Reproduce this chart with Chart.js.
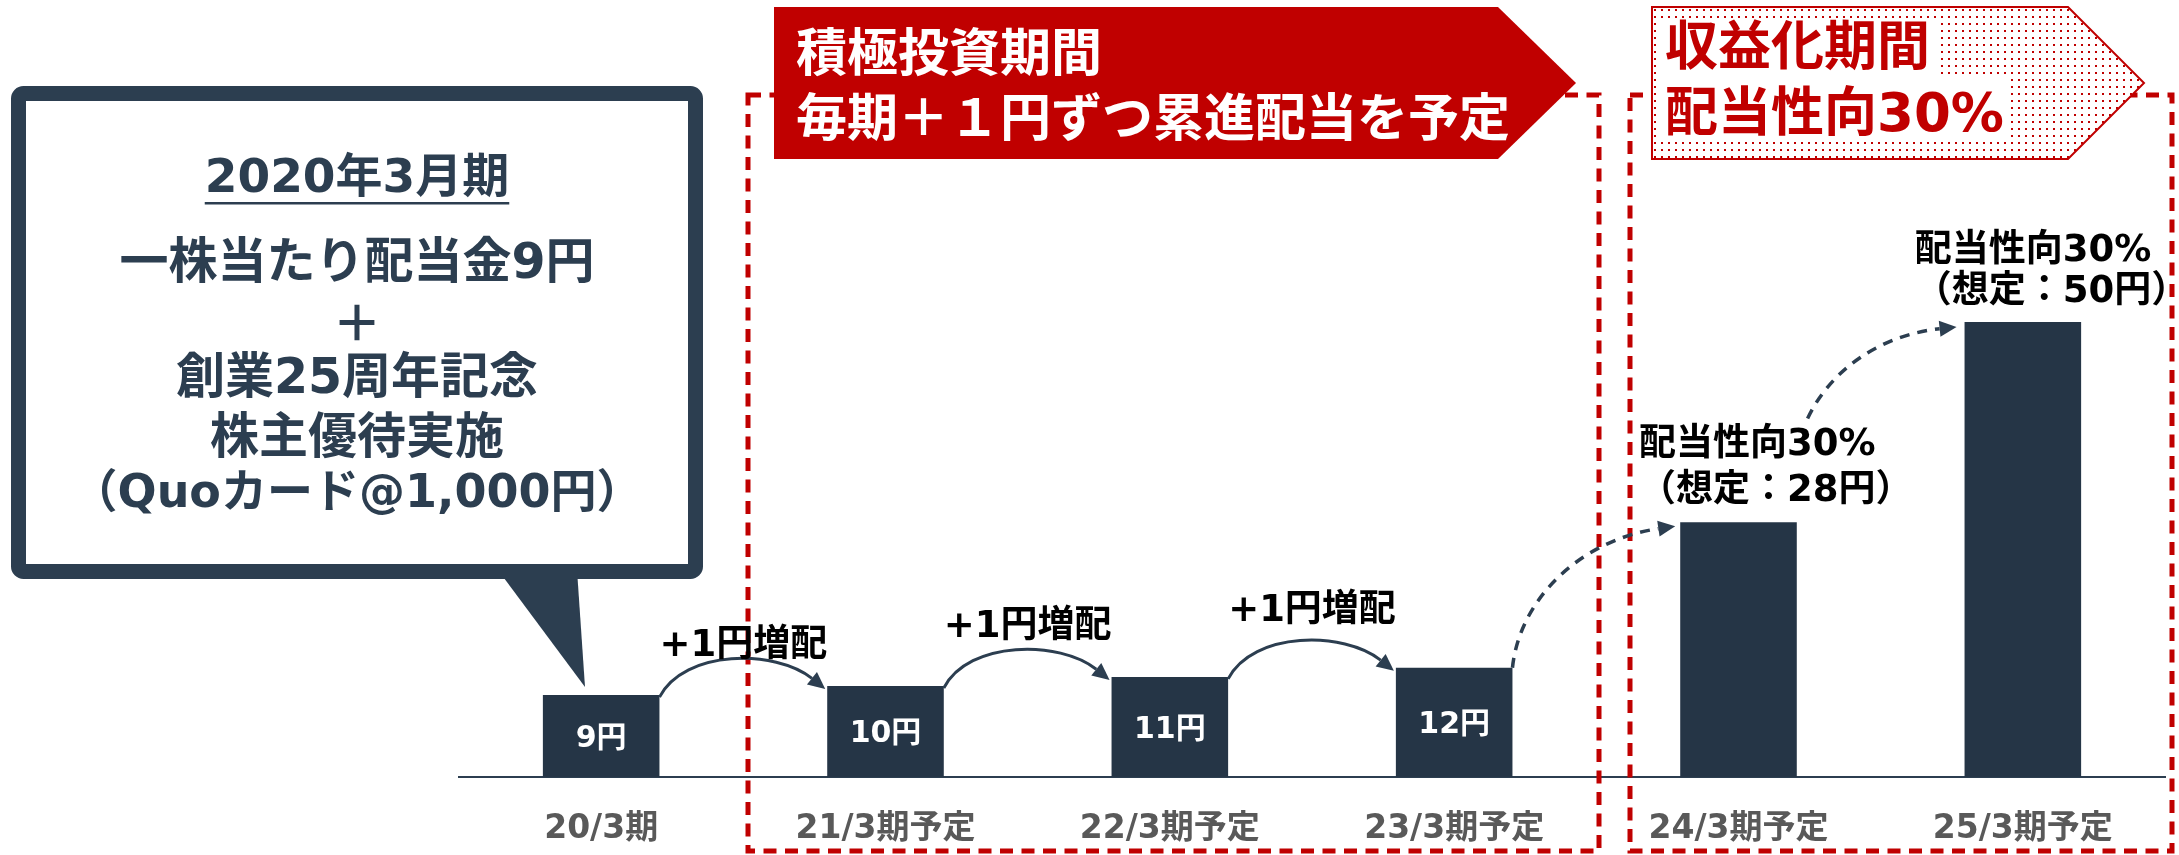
<!DOCTYPE html>
<html lang="ja">
<head>
<meta charset="utf-8">
<script src="https://cdn.jsdelivr.net/npm/chart.js@4.4.1/dist/chart.umd.min.js"></script>
<style>
  html, body { margin: 0; padding: 0; background: #fff; }
  #wrap { width: 2179px; height: 855px; }
</style>
</head>
<body>
<div id="wrap"><canvas id="chart" width="2179" height="855"></canvas></div>
<script>
// --- data ---
const categories = ["20/3期", "21/3期予定", "22/3期予定", "23/3期予定", "24/3期予定", "25/3期予定"];
const dividends = [9, 10, 11, 12, 28, 50];
const barLabels = ["9円", "10円", "11円", "12円", "", ""];
const stepLabels = ["+1円増配", "+1円増配", "+1円増配"];
const stepLabelLevels = [14.3, 16.4, 18.2];
const payoutTitles = ["配当性向30%", "配当性向30%"];
const payoutNotes = ["（想定：28円）", "（想定：50円）"];
const bubbleLines = ["2020年3月期", "一株当たり配当金9円", "＋", "創業25周年記念", "株主優待実施", "（Quoカード@1,000円）"];
const investBanner = ["積極投資期間", "毎期＋１円ずつ累進配当を予定"];
const profitBanner = ["収益化期間", "配当性向30%"];

const NAVY = "#253546";
const SLATE = "#2c3e50";
const RED = "#c00000";
const GREY = "#595959";
const MIXED = '"DejaVu Sans", "Noto Sans CJK JP", sans-serif';
const CJK = '"Noto Sans CJK JP", sans-serif';

function curveArrow(ctx, p0, c1, c2, p3, dash, lw) {
  ctx.save();
  ctx.strokeStyle = SLATE;
  ctx.fillStyle = SLATE;
  ctx.lineWidth = lw;
  const ang = Math.atan2(p3.y - c2.y, p3.x - c2.x);
  const L = 17, W = 8;
  const bx = p3.x - L * Math.cos(ang), by = p3.y - L * Math.sin(ang);
  ctx.setLineDash(dash);
  ctx.beginPath();
  ctx.moveTo(p0.x, p0.y);
  ctx.bezierCurveTo(c1.x, c1.y, c2.x, c2.y, bx, by);
  ctx.stroke();
  ctx.setLineDash([]);
  ctx.beginPath();
  ctx.moveTo(p3.x, p3.y);
  ctx.lineTo(bx + W * Math.sin(ang), by - W * Math.cos(ang));
  ctx.lineTo(bx - W * Math.sin(ang), by + W * Math.cos(ang));
  ctx.closePath();
  ctx.fill();
  ctx.restore();
}

function dotPattern(ctx) {
  const c = document.createElement("canvas");
  c.width = 7; c.height = 7;
  const g = c.getContext("2d");
  g.fillStyle = RED;
  g.fillRect(2, 2, 2, 2);
  return ctx.createPattern(c, "repeat");
}

const overlay = {
  id: "overlay",
  afterDraw(chart) {
    const ctx = chart.ctx;
    const xs = chart.scales.x, ys = chart.scales.y;
    const X = (i) => xs.getPixelForValue(i);
    const Y = (v) => ys.getPixelForValue(v);
    const bars = chart.getDatasetMeta(0).data;
    ctx.save();

    // values inside the small bars
    ctx.fillStyle = "#fff";
    ctx.font = `bold 30px ${MIXED}`;
    ctx.textAlign = "center";
    ctx.textBaseline = "middle";
    bars.forEach((b, i) => {
      if (barLabels[i]) ctx.fillText(barLabels[i], b.x, (b.y + b.base) / 2 + 3);
    });

    // dashed period frames
    ctx.strokeStyle = RED;
    ctx.lineWidth = 5;
    ctx.setLineDash([13, 8.5]);
    ctx.strokeRect(748, 95, 851, 756);
    ctx.strokeRect(1630, 95, 542, 756);
    ctx.setLineDash([]);

    // banner: investment period
    ctx.fillStyle = RED;
    ctx.beginPath();
    ctx.moveTo(774, 7); ctx.lineTo(1498, 7); ctx.lineTo(1576, 83);
    ctx.lineTo(1498, 159); ctx.lineTo(774, 159); ctx.closePath();
    ctx.fill();
    ctx.fillStyle = "#fff";
    ctx.font = `bold 51px ${CJK}`;
    ctx.textAlign = "left";
    ctx.fillText(investBanner[0], 796, 52);
    ctx.fillText(investBanner[1], 796, 117);

    // banner: monetisation period (dotted)
    ctx.beginPath();
    ctx.moveTo(1652, 7); ctx.lineTo(2068, 7); ctx.lineTo(2144, 83);
    ctx.lineTo(2068, 159); ctx.lineTo(1652, 159); ctx.closePath();
    ctx.fillStyle = "#fff";
    ctx.fill();
    ctx.fillStyle = dotPattern(ctx);
    ctx.fill();
    ctx.strokeStyle = RED;
    ctx.lineWidth = 2;
    ctx.stroke();
    ctx.font = `bold 53px ${MIXED}`;
    const w1 = ctx.measureText(profitBanner[0]).width;
    const w2 = ctx.measureText(profitBanner[1]).width;
    ctx.fillStyle = "#fff";
    ctx.fillRect(1660, 23, w1 + 14, 55);
    ctx.fillRect(1660, 78, w2 + 12, 61);
    ctx.fillStyle = RED;
    ctx.fillText(profitBanner[0], 1665, 51);
    ctx.fillText(profitBanner[1], 1665, 117);

    // speech bubble
    ctx.fillStyle = SLATE;
    ctx.beginPath();
    ctx.moveTo(498, 570); ctx.lineTo(577, 570); ctx.lineTo(585, 687); ctx.closePath();
    ctx.fill();
    ctx.strokeStyle = SLATE;
    ctx.lineWidth = 15;
    const bx = 18.5, by = 93.5, bw = 677, bh = 478, r = 5;
    ctx.beginPath();
    ctx.moveTo(bx + r, by); ctx.lineTo(bx + bw - r, by); ctx.arcTo(bx + bw, by, bx + bw, by + r, r);
    ctx.lineTo(bx + bw, by + bh - r); ctx.arcTo(bx + bw, by + bh, bx + bw - r, by + bh, r);
    ctx.lineTo(bx + r, by + bh); ctx.arcTo(bx, by + bh, bx, by + bh - r, r);
    ctx.lineTo(bx, by + r); ctx.arcTo(bx, by, bx + r, by, r);
    ctx.closePath();
    ctx.stroke();

    ctx.fillStyle = SLATE;
    ctx.textAlign = "center";
    const cx = 357;
    const lineY = [180, 265, 328, 380, 440, 495];
    const lineSize = [47, 49, 49, 49, 49, 46];
    bubbleLines.forEach((t, i) => {
      ctx.font = `bold ${lineSize[i]}px ${MIXED}`;
      ctx.fillText(t, cx, lineY[i]);
    });
    ctx.font = `bold ${lineSize[0]}px ${MIXED}`;
    const tw = ctx.measureText(bubbleLines[0]).width;
    ctx.fillRect(cx - tw / 2, lineY[0] + 22, tw, 2.5);

    // +1 yen step arrows
    for (let i = 0; i < 3; i++) {
      const a = bars[i], b = bars[i + 1];
      const p0 = { x: a.x + a.width / 2, y: a.y + 2 };
      const p3 = { x: b.x - b.width / 2 - 2, y: b.y + 3 };
      const w = p3.x - p0.x;
      curveArrow(ctx, p0, { x: p0.x + 0.15 * w, y: p0.y - 48 }, { x: p0.x + 0.7 * w, y: p0.y - 48 }, p3, [], 3);
    }
    ctx.fillStyle = "#000";
    ctx.font = `bold 37px ${MIXED}`;
    ctx.textAlign = "center";
    stepLabels.forEach((t, i) => ctx.fillText(t, X(i + 0.5), Y(stepLabelLevels[i])));

    // dashed arrows toward the payout-ratio bars
    {
      const a = bars[3], b = bars[4];
      const p0 = { x: a.x + a.width / 2, y: a.y };
      const p3 = { x: b.x - b.width / 2 - 5, y: b.y + 4 };
      const w = p3.x - p0.x, h = p3.y - p0.y;
      curveArrow(ctx, p0, { x: p0.x + 0.043 * w, y: p0.y + 0.48 * h }, { x: p0.x + 0.41 * w, y: p0.y + 0.9 * h }, p3, [10, 8], 3.5);
    }
    {
      const b = bars[5];
      const p0 = { x: X(4.243), y: Y(39.4) };
      const p3 = { x: b.x - b.width / 2 - 8, y: b.y + 5 };
      const w = p3.x - p0.x, h = p3.y - p0.y;
      curveArrow(ctx, p0, { x: p0.x + 0.15 * w, y: p0.y + 0.52 * h }, { x: p0.x + 0.48 * w, y: p0.y + 0.91 * h }, p3, [10, 8], 3.5);
    }

    // payout ratio labels
    ctx.fillStyle = "#000";
    ctx.font = `bold 37px ${MIXED}`;
    ctx.textAlign = "left";
    const labelX = [X(4 - 0.35), X(5 - 0.38)];
    const titleY = [Y(36.4), Y(57.8)];
    const noteY = [Y(31.4), Y(53.2)];
    for (let k = 0; k < 2; k++) {
      ctx.fillText(payoutTitles[k], labelX[k], titleY[k]);
      ctx.fillText(payoutNotes[k], labelX[k], noteY[k]);
    }
    ctx.restore();
  }
};

new Chart(document.getElementById("chart"), {
  type: "bar",
  data: {
    labels: categories,
    datasets: [{
      data: dividends,
      backgroundColor: NAVY,
      borderWidth: 0,
      barPercentage: 0.41,
      categoryPercentage: 1
    }]
  },
  options: {
    responsive: false,
    animation: false,
    devicePixelRatio: 1,
    layout: { padding: { left: 459, right: 14, top: 322, bottom: 0 } },
    plugins: { legend: { display: false }, tooltip: { enabled: false } },
    scales: {
      x: {
        grid: { display: false, drawTicks: false },
        border: { display: true, color: SLATE, width: 2 },
        afterFit: (scale) => { scale.height = 78; },
        ticks: {
          color: GREY,
          padding: 33,
          maxRotation: 0,
          autoSkip: false,
          font: { family: MIXED, size: 33, weight: "bold" }
        }
      },
      y: { display: false, min: 0, max: 50 }
    }
  },
  plugins: [overlay]
});
</script>
</body>
</html>
